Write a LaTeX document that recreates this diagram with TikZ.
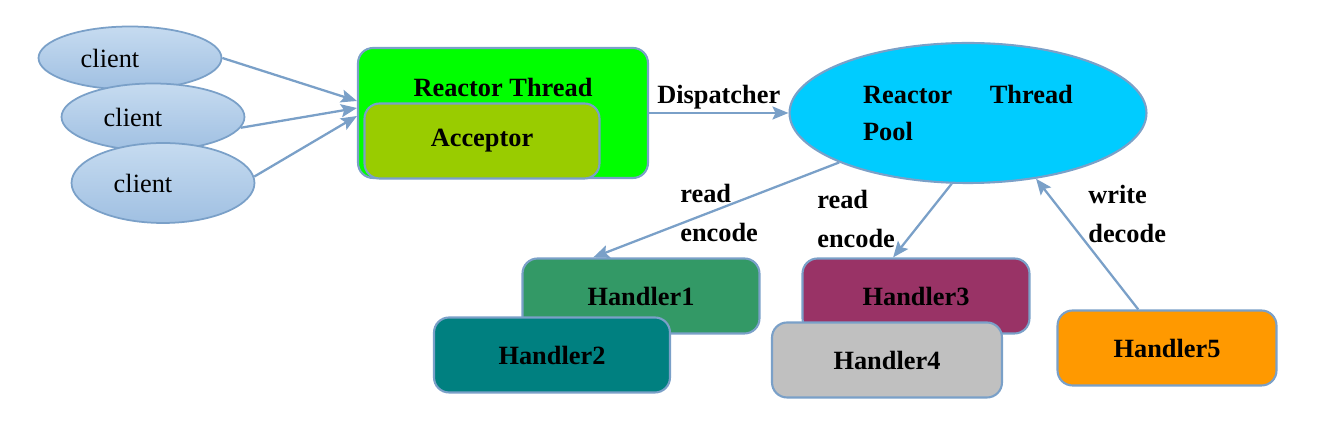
\documentclass[tikz,border=0pt]{standalone}
\usepackage{fontspec}
\setmainfont{Liberation Serif}
\usetikzlibrary{shapes.geometric, arrows.meta, positioning, calc}

\definecolor{edgeblue}{RGB}{122,160,200}
\definecolor{clienttop}{RGB}{198,219,240}
\definecolor{clientbot}{RGB}{160,192,226}
\definecolor{rtgreen}{RGB}{0,255,0}
\definecolor{accgreen}{RGB}{153,204,0}
\definecolor{poolblue}{RGB}{0,204,255}
\definecolor{hone}{RGB}{51,153,102}
\definecolor{htwo}{RGB}{0,128,128}
\definecolor{hthree}{RGB}{153,51,102}
\definecolor{hfour}{RGB}{192,192,192}
\definecolor{hfive}{RGB}{255,153,0}

\begin{document}
\begin{tikzpicture}[x=0.02cm, y=-0.02cm,
  client/.style={ellipse, draw=edgeblue, line width=1pt, top color=clienttop, bottom color=clientbot, minimum width=3.66cm, font=\fontsize{15}{18}\selectfont},
  box/.style={rectangle, rounded corners=0.3cm, draw=edgeblue, line width=1.2pt, minimum height=1.5cm, font=\fontsize{15}{18}\selectfont\bfseries},
  flow/.style={draw=edgeblue, line width=1.3pt, -{Stealth[length=0.32cm, width=0.26cm, inset=0.06cm]}},
  note/.style={anchor=west, align=left, inner sep=0pt, font=\fontsize{15}{22}\selectfont\bfseries}]
  \useasboundingbox (0,0) rectangle (1332,448);

  % Clients
  \node[client, minimum height=1.26cm] (c1) at (130,58) {client\rule{0.8cm}{0pt}};
  \node[client, minimum height=1.34cm] (c2) at (153,117) {client\rule{0.8cm}{0pt}};
  \node[client, minimum height=1.6cm] (c3) at (163,183) {client\rule{0.8cm}{0pt}};

  % Reactor thread
  \node[box, fill=rtgreen, minimum width=5.8cm, minimum height=2.6cm] (rt) at (503,113) {};
  \node[font=\fontsize{15}{18}\selectfont\bfseries] (rtname) at (503,87) {Reactor Thread};
  \node[box, fill=accgreen, minimum width=4.7cm] (acc) at (482,141) {Acceptor};

  % Pool
  \node[ellipse, draw=edgeblue, line width=1.2pt, fill=poolblue, minimum width=7.14cm, minimum height=2.8cm,
    align=left, font=\fontsize{15}{21}\selectfont\bfseries] (pool) at (968,113) {Reactor\hspace{0.75cm}Thread\\Pool};

  % Handlers
  \node[box, fill=hone, minimum width=4.74cm] (h1) at (641,296) {Handler1};
  \node[box, fill=htwo, minimum width=4.72cm] (h2) at (552,355) {Handler2};
  \node[box, fill=hthree, minimum width=4.54cm] (h3) at (916,296) {Handler3};
  \node[box, fill=hfour, minimum width=4.6cm] (h4) at (887,360) {Handler4};
  \node[box, fill=hfive, minimum width=4.38cm] (h5) at (1167,348) {Handler5};

  % Arrows
  \draw[flow] (c1.east) -- ($(rt.west)+(0,-12)$);
  \draw[flow] (c2.-7) -- ($(rt.west)+(0,-5)$);
  \draw[flow] (c3.4) -- ($(rt.west)+(0,3)$);
  \draw[flow] (rt.east) -- node[above, inner sep=1.5pt, font=\fontsize{15}{18}\selectfont\bfseries] (disp) {Dispatcher} (pool.west);
  \draw[flow] (pool.201) -- ($(h1.north west)!0.3!(h1.north east)$);
  \draw[flow] (pool.257) -- ($(h3.north west)!0.4!(h3.north east)$);
  \draw[flow] ($(h5.north west)!0.37!(h5.north east)$) -- (pool.-44);

  % Notes
  \node[note] (n1) at (680,213) {read\\encode};
  \node[note] (n2) at (817,219) {read\\encode};
  \node[note] (n3) at (1088,214) {write\\decode};
\end{tikzpicture}
\end{document}
